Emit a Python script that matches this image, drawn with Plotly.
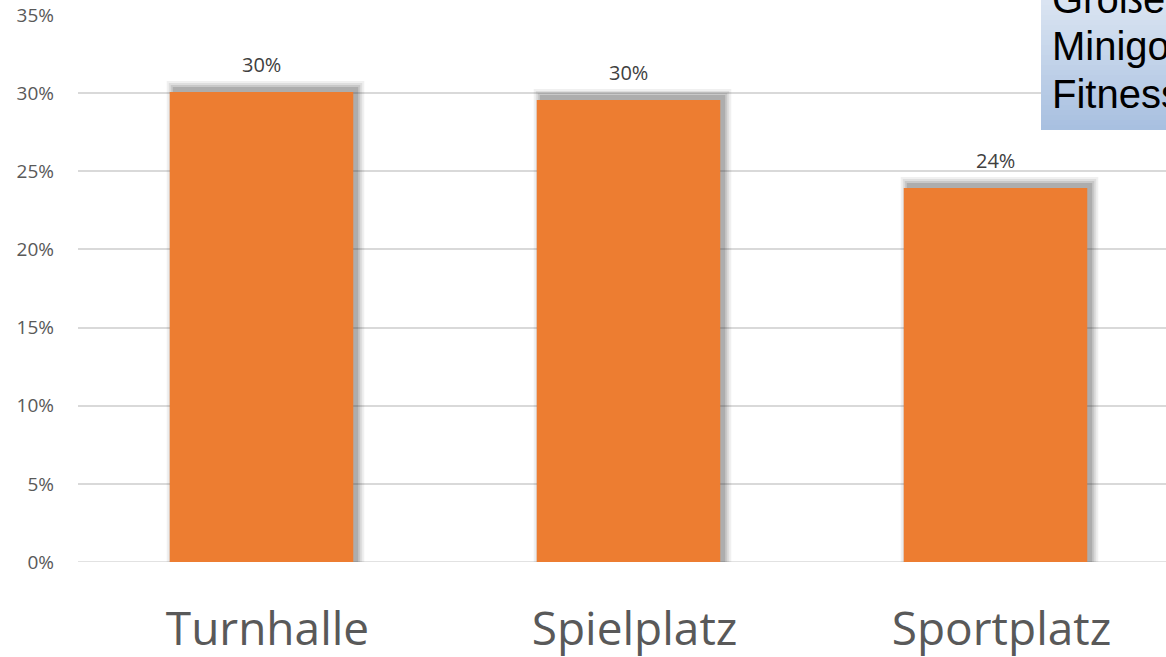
import plotly.graph_objects as go

categories = ["Turnhalle", "Spielplatz", "Sportplatz"]
values = [30.07, 29.56, 23.93]
labels = ["30%", "30%", "24%"]
box_lines = ["Größere", "Minigolf", "Fitness"]

W, H = 1166, 657
ML, MR, MT, MB = 78, 0, 15, 95
PW, PH = W - ML - MR, H - MT - MB
x_range = [-0.5, -0.5 + PW / 367.0]
y_range = [0, 35]
px_per_x = 367.0
px_per_y = PH / 35.0


def py_to_paper(py):
    return (H - MB - py) / PH


def px_to_paper(px):
    return (px - ML) / PW


fig = go.Figure()

# soft shadow layers (derived from data)
dx, dy = 4, 4
for e, op in [(7, 0.07), (5, 0.09), (3, 0.12), (1, 0.16)]:
    fig.add_trace(go.Bar(
        x=categories, y=[v + (dy + e) / px_per_y for v in values],
        width=0.5 + 2 * e / px_per_x,
        offset=-0.25 + (dx - e) / px_per_x,
        marker=dict(color=f"rgba(40,40,40,{op})", line=dict(width=0)),
        hoverinfo="skip", showlegend=False))

fig.add_trace(go.Bar(
    x=categories, y=values, width=0.5, offset=-0.25,
    marker=dict(color="#ED7D31", line=dict(width=0)),
    showlegend=False))

for c, v, t in zip(categories, values, labels):
    fig.add_annotation(x=c, y=v, text=t, showarrow=False, yanchor="bottom",
                       yshift=12, font=dict(family="Open Sans", size=20, color="#404040"))

# gradient text box (top right)
x0 = px_to_paper(1041)
x1 = 1.05
ytop = py_to_paper(-10)
ybot = py_to_paper(130)
n = 28
c_top = (222, 231, 243)
c_bot = (168, 192, 224)
for k in range(n):
    f = k / (n - 1)
    col = tuple(int(round(a + (b - a) * f)) for a, b in zip(c_top, c_bot))
    yy0 = ytop - (ytop - ybot) * k / n
    yy1 = ytop - (ytop - ybot) * (k + 1) / n
    fig.add_shape(type="rect", xref="paper", yref="paper", x0=x0, x1=x1, y0=yy1, y1=yy0,
                  fillcolor=f"rgb{col}", line=dict(width=0), layer="above")

for line, base in zip(box_lines, [13, 60, 108]):
    fig.add_annotation(xref="paper", yref="paper", x=px_to_paper(1050), y=py_to_paper(base - 14),
                       xanchor="left", yanchor="middle", align="left", showarrow=False,
                       text=line, font=dict(family="Liberation Sans", size=40, color="#000000"))

fig.update_layout(
    width=W, height=H, margin=dict(l=ML, r=MR, t=MT, b=MB, pad=0),
    paper_bgcolor="white", plot_bgcolor="white", barmode="overlay",
    xaxis=dict(range=x_range, showgrid=False, zeroline=False, showline=False,
               ticks="", ticklabelstandoff=36, ticklabelshift=6, automargin=False,
               tickfont=dict(family="Open Sans", size=46, color="#595959")),
    yaxis=dict(range=y_range, dtick=5, ticksuffix="%", showgrid=True,
               gridcolor="#D9D9D9", gridwidth=1.5, zeroline=False, showline=False,
               ticks="", ticklabelstandoff=23, automargin=False,
               tickfont=dict(family="Open Sans", size=19, color="#595959")),
)
fig.add_hline(y=0, line=dict(color="#D9D9D9", width=1.5), layer="below")

fig.write_html("out.html", config={"displayModeBar": False},
               post_script="document.body.style.margin='0';")
